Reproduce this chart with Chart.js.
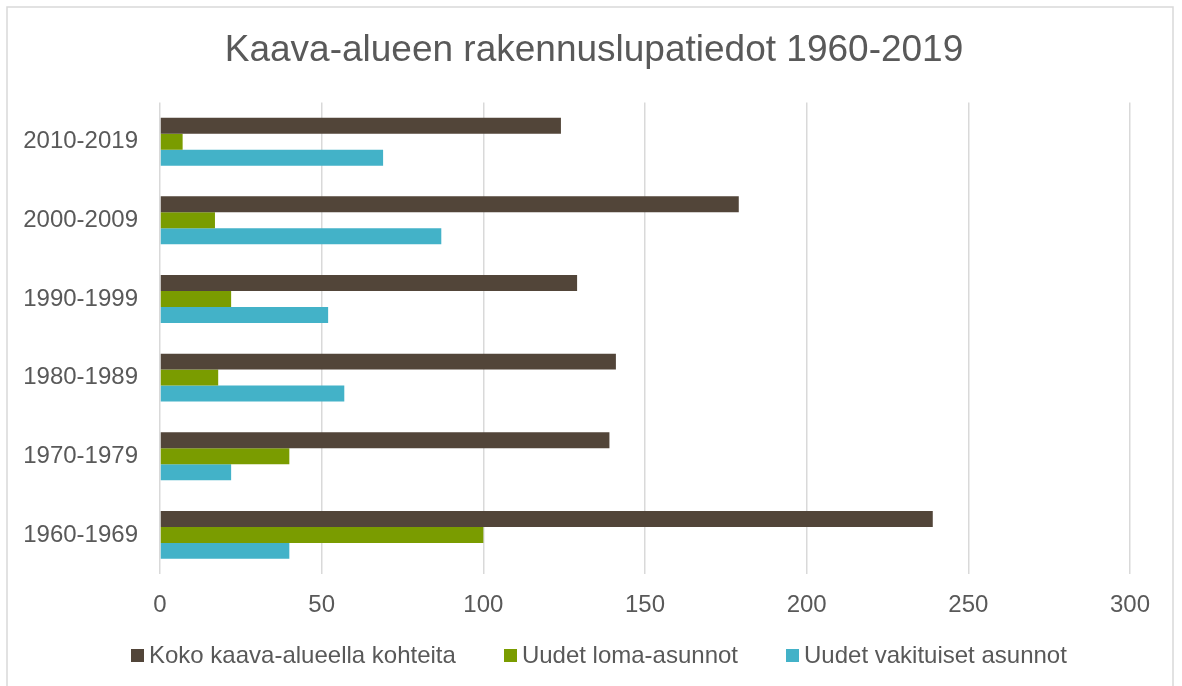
<!DOCTYPE html>
<html>
<head>
<meta charset="utf-8">
<script src="https://cdn.jsdelivr.net/npm/chart.js@4"></script>
<style>
  html, body { margin: 0; padding: 0; background: #fff; }
  #wrap { position: relative; width: 1182px; height: 686px; overflow: hidden; }
  #legend {
    position: absolute; left: 131px; top: 641px;
    display: flex; align-items: center; gap: 48px;
    font: 24px "Liberation Sans", Arial, sans-serif; line-height: 28px; color: #595959;
    white-space: nowrap;
  }
  .legend-item { display: flex; align-items: center; }
  .legend-box { width: 13px; height: 13px; margin-right: 5px; }
</style>
</head>
<body>
<div id="wrap">
  <canvas id="chart" width="1182" height="686"></canvas>
  <div id="legend"></div>
</div>
<script>
const periods = ["2010-2019", "2000-2009", "1990-1999", "1980-1989", "1970-1979", "1960-1969"];
const kokoKaava = [124, 179, 129, 141, 139, 239];
const lomaAsunnot = [7, 17, 22, 18, 40, 100];
const vakituisetAsunnot = [69, 87, 52, 57, 22, 40];

const textColor = "#595959";
const fontFamily = "'Liberation Sans', Arial, sans-serif";

// light grey frame round the whole chart, like the spreadsheet chart area
const framePlugin = {
  id: "frame",
  beforeDraw: (chart) => {
    const ctx = chart.ctx;
    ctx.save();
    ctx.strokeStyle = "#d9d9d9";
    ctx.lineWidth = 1.5;
    ctx.strokeRect(7, 7, 1166, 700);
    ctx.restore();
  },
};

const chart = new Chart(document.getElementById("chart"), {
  type: "bar",
  data: {
    labels: periods,
    datasets: [
      { label: "Koko kaava-alueella kohteita", data: kokoKaava, backgroundColor: "#524539" },
      { label: "Uudet loma-asunnot", data: lomaAsunnot, backgroundColor: "#7a9c00" },
      { label: "Uudet vakituiset asunnot", data: vakituisetAsunnot, backgroundColor: "#43b2c8" },
    ],
  },
  options: {
    indexAxis: "y",
    responsive: false,
    animation: false,
    categoryPercentage: 0.61,
    barPercentage: 1.0,
    layout: { padding: { left: 6, right: 0, top: 0, bottom: 49 } },
    plugins: {
      title: {
        display: true,
        text: "Kaava-alueen rakennuslupatiedot 1960-2019",
        color: textColor,
        font: { family: fontFamily, size: 37, weight: "normal" },
        padding: { top: 29, bottom: 29 },
      },
      legend: { display: false },
      tooltip: { enabled: false },
    },
    scales: {
      x: {
        min: 0,
        max: 300,
        ticks: { stepSize: 50, color: textColor, font: { family: fontFamily, size: 24 }, padding: 17 },
        grid: { color: "#d9d9d9", lineWidth: 1.5, drawTicks: false },
        border: { display: false },
        afterFit: (scale) => { scale.paddingRight = 52; },
      },
      y: {
        ticks: { color: textColor, font: { family: fontFamily, size: 24 }, padding: 22 },
        grid: { display: false, drawTicks: false },
        border: { display: false },
        afterFit: (scale) => { scale.width = 154; },
      },
    },
  },
  plugins: [framePlugin],
});

// --- Legend (HTML, built from the chart's datasets) ---
const legendEl = document.getElementById("legend");
chart.data.datasets.forEach((ds) => {
  const item = document.createElement("div");
  item.className = "legend-item";
  const box = document.createElement("span");
  box.className = "legend-box";
  box.style.background = ds.backgroundColor;
  const label = document.createElement("span");
  label.textContent = ds.label;
  item.appendChild(box);
  item.appendChild(label);
  legendEl.appendChild(item);
});
</script>
</body>
</html>
